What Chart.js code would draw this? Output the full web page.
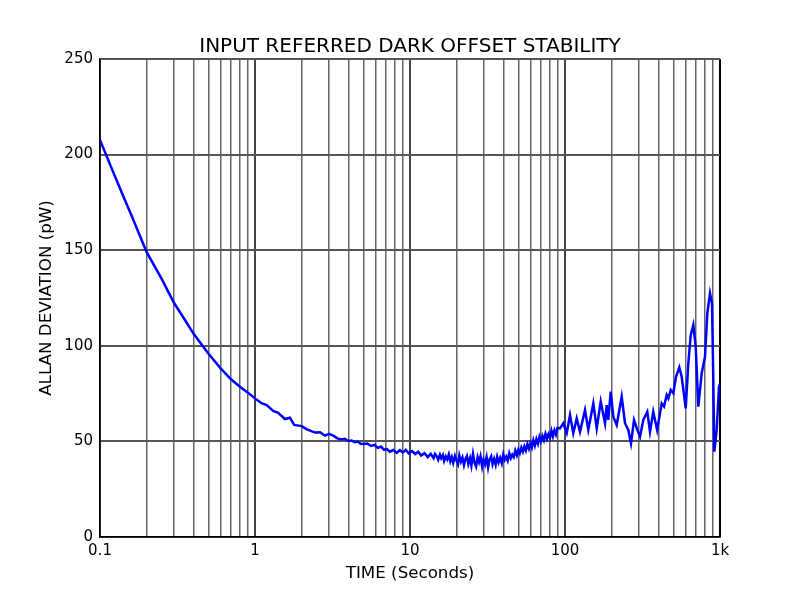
<!DOCTYPE html>
<html>
<head>
<meta charset="utf-8">
<script src="https://cdn.jsdelivr.net/npm/chart.js@4.4.0/dist/chart.umd.min.js"></script>
<style>
  html, body { margin: 0; padding: 0; background: #fff; }
  #wrap { width: 800px; height: 597px; }
</style>
</head>
<body>
<div id="wrap"><canvas id="allanChart"></canvas></div>
<script>
// averaging time (s) and allan deviation (pW)
var tSec = [
  0.1, 0.12, 0.14, 0.16, 0.18, 0.2, 0.25, 0.3, 0.35, 0.4, 0.45, 0.5, 0.6, 0.7, 0.8, 0.9,
  1.0, 1.1, 1.19, 1.31, 1.41, 1.56, 1.68, 1.79, 2.0, 2.16, 2.44, 2.63, 2.83,
  3.0, 3.2, 3.4, 3.6, 3.8, 4.0, 4.2, 4.4, 4.6, 4.8, 5.0, 5.3, 5.6, 5.9, 6.2, 6.5, 6.8, 7.1, 7.4, 7.8,
  8.2, 8.6, 9.0, 9.4, 9.8, 10.3, 10.8, 11.3, 11.8, 12.4, 13.0, 13.6,
  14.2, 14.5, 14.9, 15.2, 15.6, 15.9, 16.3, 16.6, 17.0, 17.4, 17.8, 18.2, 18.6, 19.0, 19.5, 19.9,
  20.4, 20.8, 21.3, 21.8, 22.3, 22.8, 23.3, 23.8, 24.4, 24.9, 25.5, 26.1, 26.7, 27.3, 27.9, 28.5,
  29.2, 29.8, 30.5, 31.2, 31.9, 32.6, 33.4, 34.1, 34.9, 35.7, 36.5, 37.3, 38.2, 39.1, 40.0, 40.9,
  41.8, 42.7, 43.7, 44.7, 45.7, 46.7, 47.8, 48.9, 50.0, 51.1, 52.3, 53.5, 54.7, 55.9, 57.2, 58.5,
  59.8, 61.1, 62.5, 63.9, 65.4, 66.9, 68.4, 69.9, 71.5, 73.1, 74.8, 76.5, 78.2, 80.0, 81.8, 83.6,
  85.5, 87.4, 89.4,
  92.8, 97.5, 102.6, 107.7, 113.1, 119.0, 125.0, 134.6, 141.4, 152.3, 160.2, 170.0, 181.2, 185.8,
  190.3, 197.2, 204.9, 215.5, 232.2, 243.8, 256.1, 266.6, 278.8, 292.8, 304.7, 320.1, 339.6, 353.5,
  371.0, 393.0, 420.7, 435.3, 453.1, 464.1, 480.9, 499.8, 520.2, 546.4, 566.2, 600.9, 624.6, 647.3,
  672.7, 697.2, 724.4, 761.9, 800.2, 828.2, 861.9, 888.0, 905.4, 919.0, 952.0, 985.1, 1000
];
var allanDev = [
  207.6, 192, 179, 168, 158, 149, 135, 122.5, 114, 106.5, 101, 96, 88.2, 82.5, 78.6, 75.5,
  72.5, 70.0, 69.0, 65.9, 65.0, 61.7, 62.4, 58.6, 58.0, 56.3, 54.6, 54.8, 53.0,
  53.9, 53.0, 51.6, 51.0, 51.4, 50.2, 50.5, 49.6, 49.9, 48.8, 48.6, 48.9, 47.6, 48.2, 46.6, 47.3, 45.6, 46.0, 44.6, 45.5,
  44.0, 45.4, 44.2, 45.6, 43.8, 44.9, 43.4, 44.6, 42.6, 43.8, 41.8, 43.5,
  41.2, 43.4, 42.0, 40.4, 43.0, 41.2, 42.8, 39.8, 42.2, 40.6, 43.2, 39.6, 41.8, 38.8, 42.4, 40.2,
  38.0, 42.6, 39.4, 41.6, 37.6, 40.8, 42.4, 38.2, 41.2, 37.4, 43.4, 38.8, 36.8, 41.8, 39.2, 42.2,
  36.8, 40.4, 38.0, 41.8, 36.4, 40.6, 42.2, 38.0, 40.8, 37.8, 42.0, 39.0, 41.4, 38.6, 43.2, 40.4,
  42.0, 40.0, 43.8, 41.2, 43.0, 41.8, 45.2, 42.8, 45.6, 43.8, 46.8, 44.6, 47.4, 45.2, 48.6, 46.2,
  49.0, 46.8, 50.6, 47.8, 51.2, 48.8, 52.4, 50.0, 52.8, 50.6, 54.0, 51.4, 53.8, 51.8, 55.6, 52.6,
  55.8, 53.6, 57.0,
  56.8, 59.5, 54.4, 63.8, 54.2, 62.0, 55.0, 66.4, 56.0, 69.9, 56.8, 70.8, 59.5, 69.0,
  61.2, 76.0, 62.9, 58.6, 73.4, 59.5, 56.0, 49.0, 61.2, 56.0, 52.5, 61.2, 65.5, 55.0,
  65.5, 56.0, 69.9, 68.2, 74.3, 72.5, 76.9, 75.2, 83.8, 88.7, 83.8, 67.3, 90.8, 105.6,
  110.9, 99.5, 68.2, 85.6, 94.3, 117.0, 127.5, 122.2, 82.0, 44.6, 56.0, 78.6, 80.0
];

// log grid lines and the labelled decades
var gridTicks = [
  0.1, 0.2, 0.3, 0.4, 0.5, 0.6, 0.7, 0.8, 0.9,
  1, 2, 3, 4, 5, 6, 7, 8, 9,
  10, 20, 30, 40, 50, 60, 70, 80, 90,
  100, 200, 300, 400, 500, 600, 700, 800, 900, 1000
];
var decadeTicks = [0.1, 1, 10, 100, 1000];
var decadeLabels = ['0.1', '1', '10', '100', '1k'];

var points = tSec.map(function (t, i) { return { x: t, y: allanDev[i] }; });

var ctx = document.getElementById('allanChart').getContext('2d');
var allanChart = new Chart(ctx, {
  type: 'scatter',
  data: {
    datasets: [{
      data: points,
      showLine: true,
      borderColor: '#0000ff',
      backgroundColor: '#0000ff',
      borderWidth: 2.5,
      pointRadius: 0,
      tension: 0
    }]
  },
  options: {
    responsive: true,
    maintainAspectRatio: false,
    animation: false,
    layout: { padding: { top: 0, left: 37, right: 80, bottom: 0 } },
    plugins: {
      legend: { display: false },
      tooltip: { enabled: false },
      title: {
        display: true,
        text: 'INPUT REFERRED DARK OFFSET STABILITY',
        fullSize: false,
        color: '#000',
        font: { family: 'DejaVu Sans', size: 20, weight: 'normal' },
        padding: { top: 35, bottom: 0 }
      }
    },
    scales: {
      x: {
        type: 'logarithmic',
        min: 0.1,
        max: 1000,
        afterBuildTicks: function (scale) {
          scale.ticks = gridTicks.map(function (v) { return { value: v }; });
        },
        afterFit: function (scale) { scale.height = 60; },
        ticks: {
          autoSkip: false,
          maxRotation: 0,
          padding: 5,
          color: '#000',
          font: { family: 'DejaVu Sans', size: 15 },
          callback: function (value) {
            var i = decadeTicks.indexOf(value);
            return i >= 0 ? decadeLabels[i] : '';
          }
        },
        grid: {
          drawTicks: false,
          color: function (c) {
            if (!c.tick) return '#666';
            if (c.tick.value === 1000) return '#000';
            return decadeTicks.indexOf(c.tick.value) >= 0 ? '#444' : '#666';
          },
          lineWidth: function (c) {
            if (!c.tick) return 1.5;
            if (c.tick.value === 1000) return 2;
            return decadeTicks.indexOf(c.tick.value) >= 0 ? 2 : 1.5;
          }
        },
        border: { color: '#000', width: 1.5 },
        title: {
          display: true,
          text: 'TIME (Seconds)',
          color: '#000',
          font: { family: 'DejaVu Sans', size: 16.7 },
          padding: { top: 0, bottom: 13 }
        }
      },
      y: {
        min: 0,
        max: 250,
        afterFit: function (scale) { scale.width = 63; },
        ticks: {
          stepSize: 50,
          padding: 7,
          color: '#000',
          font: { family: 'DejaVu Sans', size: 15 }
        },
        grid: { drawTicks: false, color: '#555', lineWidth: 2 },
        border: { color: '#000', width: 1.5 },
        title: {
          display: true,
          text: 'ALLAN DEVIATION (pW)',
          color: '#000',
          font: { family: 'DejaVu Sans', size: 16.7 },
          padding: { top: 0, bottom: 0 }
        }
      }
    }
  }
});
</script>
</body>
</html>
